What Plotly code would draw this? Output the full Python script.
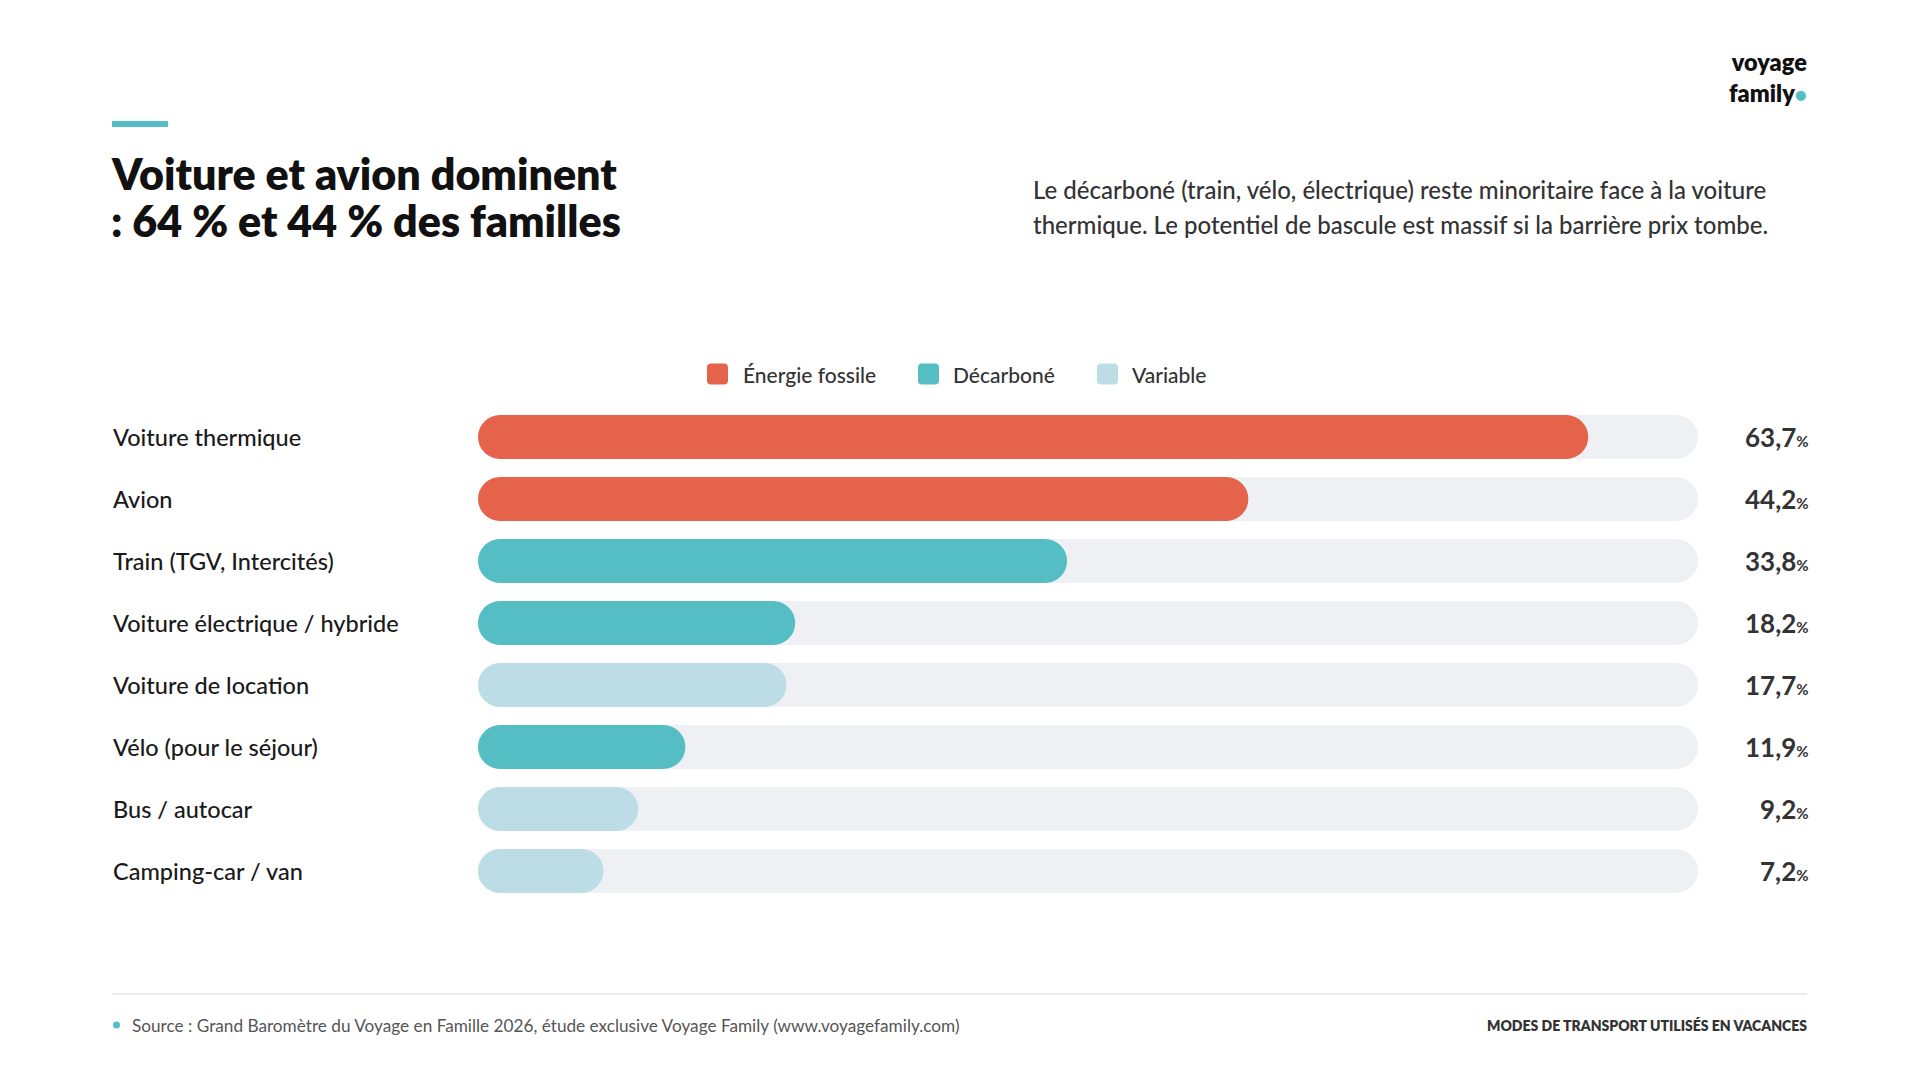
import plotly.graph_objects as go

# ---------------- data ----------------
categories = [
    "Voiture thermique",
    "Avion",
    "Train (TGV, Intercités)",
    "Voiture électrique / hybride",
    "Voiture de location",
    "Vélo (pour le séjour)",
    "Bus / autocar",
    "Camping-car / van",
]
values = [63.7, 44.2, 33.8, 18.2, 17.7, 11.9, 9.2, 7.2]
groups = ["Énergie fossile", "Énergie fossile", "Décarboné", "Décarboné",
          "Variable", "Décarboné", "Variable", "Variable"]
group_order = ["Énergie fossile", "Décarboné", "Variable"]
axis_max = 70

# ---------------- style ----------------
colors = {"Énergie fossile": "#E5634A", "Décarboné": "#54BEC4", "Variable": "#BCDDE5"}
track_color = "#EFF0F3"
FONT = "Lato"
BAR_W = 0.71

# plot area in pixels (for placing decorations in paper coords)
PL, PR, PT, PB = 478, 1698, 406, 902
PW, PH = PR - PL, PB - PT


def px_x(x):
    return (x - PL) / PW


def px_y(y):
    return (PB - y) / PH


fig = go.Figure()


def capsule(y, v, color, name):
    """A bar with an explicit base: plotly rounds both of its ends -> pill shape."""
    fig.add_trace(go.Bar(
        y=y, x=v, base=0, orientation="h",
        width=BAR_W,
        marker=dict(color=color, cornerradius="50%", line=dict(width=0)),
        name=name, showlegend=False, hoverinfo="skip",
    ))


# background tracks
capsule(categories, [axis_max] * len(categories), track_color, "track")

# coloured bars
for g in group_order:
    ys = [c for c, gg in zip(categories, groups) if gg == g]
    vs = [v for v, gg in zip(values, groups) if gg == g]
    capsule(ys, vs, colors[g], g)

annotations = []
shapes = []

# category labels (left aligned)
for c in categories:
    annotations.append(dict(
        xref="paper", yref="y", x=px_x(111), y=c, text=c, showarrow=False,
        xanchor="left", yanchor="middle",
        font=dict(family=FONT, size=23.5, color="#1A1A1A", weight=500),
    ))
# value labels (right aligned)
for c, v in zip(categories, values):
    txt = f"{v:.1f}".replace(".", ",")
    annotations.append(dict(
        xref="paper", yref="y", x=px_x(1811), y=c,
        text=f"<b>{txt}</b><span style='font-size:15px'><b>%</b></span>",
        showarrow=False, xanchor="right", yanchor="middle",
        font=dict(family=FONT, size=26, color="#333333"),
    ))

# legend (rounded swatches + labels)
legend_sq_x = [707, 918, 1097]
legend_tx_x = [741, 951, 1130]
LEG_Y = 374
for g, sx, tx in zip(group_order, legend_sq_x, legend_tx_x):
    x0, x1 = px_x(sx), px_x(sx + 21)
    y0, y1 = px_y(LEG_Y + 10.5), px_y(LEG_Y - 10.5)
    r = 4
    rx, ry = r / PW, r / PH
    path = (f"M{x0 + rx},{y0} L{x1 - rx},{y0} Q{x1},{y0} {x1},{y0 + ry} "
            f"L{x1},{y1 - ry} Q{x1},{y1} {x1 - rx},{y1} L{x0 + rx},{y1} "
            f"Q{x0},{y1} {x0},{y1 - ry} L{x0},{y0 + ry} Q{x0},{y0} {x0 + rx},{y0} Z")
    shapes.append(dict(type="path", xref="paper", yref="paper", path=path,
                       fillcolor=colors[g], line=dict(width=0)))
    annotations.append(dict(
        xref="paper", yref="paper", x=px_x(tx), y=px_y(LEG_Y), text=g, showarrow=False,
        xanchor="left", yanchor="middle",
        font=dict(family=FONT, size=21, color="#333333", weight=500),
    ))

# title, subtitle, logo, footer
annotations += [
    dict(xref="paper", yref="paper", x=px_x(109), y=px_y(173),
         text="Voiture et avion dominent", showarrow=False, xanchor="left", yanchor="middle",
         font=dict(family=FONT, size=43, color="#111111", weight=800)),
    dict(xref="paper", yref="paper", x=px_x(109), y=px_y(220),
         text=": 64 % et 44 % des familles", showarrow=False, xanchor="left", yanchor="middle",
         font=dict(family=FONT, size=43, color="#111111", weight=800)),
    dict(xref="paper", yref="paper", x=px_x(1031), y=px_y(189),
         text="Le décarboné (train, vélo, électrique) reste minoritaire face à la voiture",
         showarrow=False, xanchor="left", yanchor="middle",
         font=dict(family=FONT, size=24, color="#333333", weight=500)),
    dict(xref="paper", yref="paper", x=px_x(1031), y=px_y(224),
         text="thermique. Le potentiel de bascule est massif si la barrière prix tombe.",
         showarrow=False, xanchor="left", yanchor="middle",
         font=dict(family=FONT, size=24, color="#333333", weight=500)),
    dict(xref="paper", yref="paper", x=px_x(1809), y=px_y(77),
         text="voyage<br>family<span style='color:#54BEC4;font-size:20px'>●</span>",
         showarrow=False, xanchor="right", yanchor="middle", align="right",
         font=dict(family=FONT, size=23.5, color="#111111", weight=800)),
    dict(xref="paper", yref="paper", x=px_x(130), y=px_y(1025),
         text="Source : Grand Baromètre du Voyage en Famille 2026, étude exclusive Voyage Family (www.voyagefamily.com)",
         showarrow=False, xanchor="left", yanchor="middle",
         font=dict(family=FONT, size=17.2, color="#555555")),
    dict(xref="paper", yref="paper", x=px_x(1809), y=px_y(1025),
         text="MODES DE TRANSPORT UTILISÉS EN VACANCES",
         showarrow=False, xanchor="right", yanchor="middle",
         font=dict(family=FONT, size=14, color="#333333", weight=800)),
]

shapes += [
    # accent bar above title
    dict(type="rect", xref="paper", yref="paper",
         x0=px_x(112), x1=px_x(168), y0=px_y(127), y1=px_y(121),
         fillcolor="#54BEC4", line=dict(width=0), layer="above"),
    # footer rule
    dict(type="line", xref="paper", yref="paper",
         x0=px_x(112), x1=px_x(1807), y0=px_y(994), y1=px_y(994),
         line=dict(color="#E6E6E6", width=1.5)),
    # footer dot
    dict(type="circle", xref="paper", yref="paper",
         x0=px_x(113), x1=px_x(120), y0=px_y(1028.5), y1=px_y(1021.5),
         fillcolor="#54BEC4", line=dict(width=0)),
]

fig.update_layout(
    width=1920, height=1080,
    margin=dict(l=PL, r=1920 - PR, t=PT, b=1080 - PB, autoexpand=False),
    paper_bgcolor="white", plot_bgcolor="white",
    barmode="overlay",
    showlegend=False,
    xaxis=dict(range=[0, axis_max], visible=False, fixedrange=True),
    yaxis=dict(categoryorder="array", categoryarray=categories, range=[len(categories) - 0.5, -0.5],
               visible=False, fixedrange=True),
    annotations=annotations,
    shapes=shapes,
    font=dict(family=FONT),
)

fig.write_html("out.html", config={"displayModeBar": False})
